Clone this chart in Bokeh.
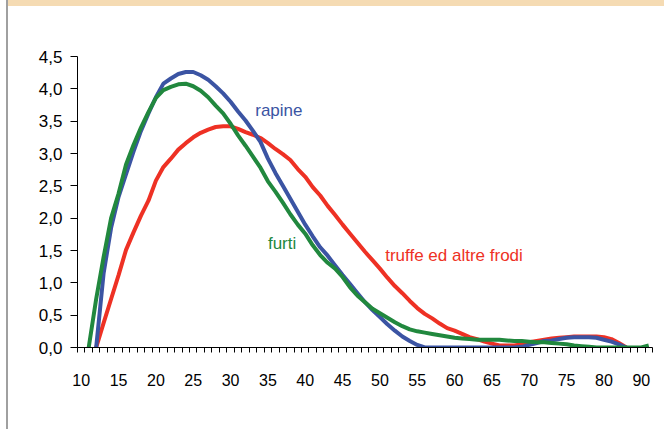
from bokeh.plotting import figure
from bokeh.models import Range1d, FixedTicker, CustomJSTickFormatter
from bokeh.core.properties import value
from bokeh.embed import file_html
from bokeh.resources import INLINE

# ---- data ----
ages_rapine = list(range(12, 84))
rapine = [0.0, 1.15, 1.85, 2.33, 2.68, 3.03, 3.35, 3.62, 3.87, 4.08,
          4.16, 4.23, 4.26, 4.26, 4.21, 4.14, 4.04, 3.93, 3.80, 3.65,
          3.51, 3.35, 3.18, 2.92, 2.70, 2.50, 2.30, 2.10, 1.90, 1.72,
          1.55, 1.42, 1.27, 1.12, 0.98, 0.84, 0.70, 0.58, 0.47, 0.36,
          0.26, 0.17, 0.10, 0.04, 0.0, 0.0, 0.0, 0.0, 0.0, 0.0,
          0.0, 0.0, 0.0, 0.0, 0.0, 0.0, 0.0, 0.01, 0.04, 0.07,
          0.10, 0.11, 0.13, 0.15, 0.16, 0.16, 0.16, 0.15, 0.12, 0.09,
          0.05, 0.0]

ages_furti = list(range(11, 87))
furti = [0.0, 0.75, 1.40, 2.00, 2.38, 2.83, 3.13, 3.40, 3.64, 3.86,
         3.98, 4.03, 4.07, 4.08, 4.04, 3.97, 3.87, 3.74, 3.62, 3.46,
         3.28, 3.12, 2.95, 2.78, 2.57, 2.41, 2.24, 2.06, 1.90, 1.76,
         1.58, 1.43, 1.31, 1.22, 1.09, 0.93, 0.80, 0.70, 0.60, 0.53,
         0.46, 0.39, 0.33, 0.28, 0.25, 0.23, 0.21, 0.19, 0.17, 0.15,
         0.14, 0.13, 0.12, 0.12, 0.12, 0.12, 0.11, 0.10, 0.10, 0.09,
         0.08, 0.08, 0.07, 0.06, 0.05, 0.03, 0.02, 0.01, 0.0, 0.0,
         0.0, 0.0, 0.0, 0.0, 0.0, 0.03]

ages_truffe = list(range(12, 84))
truffe = [0.0, 0.38, 0.75, 1.12, 1.51, 1.78, 2.04, 2.27, 2.58, 2.79,
          2.92, 3.06, 3.16, 3.25, 3.32, 3.37, 3.41, 3.42, 3.42, 3.38,
          3.33, 3.29, 3.24, 3.16, 3.07, 2.99, 2.90, 2.76, 2.64, 2.48,
          2.35, 2.19, 2.05, 1.90, 1.76, 1.62, 1.48, 1.35, 1.22, 1.08,
          0.95, 0.84, 0.72, 0.61, 0.52, 0.45, 0.37, 0.30, 0.26, 0.21,
          0.16, 0.13, 0.09, 0.06, 0.03, 0.03, 0.03, 0.05, 0.08, 0.10,
          0.12, 0.14, 0.15, 0.16, 0.17, 0.17, 0.17, 0.17, 0.16, 0.13,
          0.07, 0.0]

x_tick_pos = [10, 15, 20, 25, 30, 35, 40, 45, 50, 55, 60, 65, 70, 75, 80, 85]
x_tick_labels = ["10", "15", "20", "25", "30", "35", "40", "45", "50", "55",
                 "60", "65", "70", "75", "80", "90"]
y_ticks = [0.0, 0.5, 1.0, 1.5, 2.0, 2.5, 3.0, 3.5, 4.0, 4.5]

series_names = ["rapine", "furti", "truffe ed altre frodi"]
label_x = [33.3, 35.0, 50.7]
label_y = [3.67, 1.61, 1.42]

C_RAP = "#3B54A3"
C_FUR = "#21883E"
C_TRU = "#EE3124"

# ---- figure ----
p = figure(width=656, height=429, output_backend="svg", toolbar_location=None,
           x_range=Range1d(9.5, 86.5), y_range=Range1d(0, 4.5),
           min_border_left=69, min_border_right=12, min_border_top=50,
           min_border_bottom=88)
# page decoration: beige band on top and grey rule on the left
p.styles = {"margin-left": "8px", "border-top": "6px solid #F5DBB3",
            "box-shadow": "-2px 0 0 0 #a0a0a0", "background-color": "white"}
p.outline_line_color = None
p.xgrid.visible = False
p.ygrid.visible = False
p.background_fill_color = None
p.border_fill_color = None

p.line(ages_truffe, truffe, line_color=C_TRU, line_width=4)
p.line(ages_rapine, rapine, line_color=C_RAP, line_width=4)
p.line(ages_furti, furti, line_color=C_FUR, line_width=4)

p.text(x=label_x, y=label_y, text=series_names,
       text_color=[C_RAP, C_FUR, C_TRU], text_font=value("Liberation Sans"),
       text_font_size="17px", text_baseline="middle", text_align="left")

# x axis
xa = p.xaxis[0]
xa.ticker = FixedTicker(ticks=x_tick_pos,
                        minor_ticks=[a - 0.5 for a in range(10, 88)])
xa.major_label_overrides = {t: l for t, l in zip(x_tick_pos, x_tick_labels)}
xa.major_tick_in = 0
xa.major_tick_out = 0
xa.minor_tick_in = 0
xa.minor_tick_out = 5
xa.minor_tick_line_color = "black"
xa.axis_line_color = "black"
xa.major_label_standoff = 21
xa.major_label_text_font = "Liberation Sans"
xa.major_label_text_font_size = "16px"
xa.major_label_text_color = "black"

# y axis
ya = p.yaxis[0]
ya.ticker = FixedTicker(ticks=y_ticks, minor_ticks=[])
ya.formatter = CustomJSTickFormatter(code="return tick.toFixed(1).replace('.', ',');")
ya.major_tick_in = 0
ya.major_tick_out = 7
ya.minor_tick_out = 0
ya.minor_tick_in = 0
ya.major_tick_line_color = "black"
ya.axis_line_color = "black"
ya.major_label_standoff = 8
ya.major_label_text_font = "Liberation Sans"
ya.major_label_text_font_size = "17px"
ya.major_label_text_color = "black"

open("out.html", "w").write(file_html(p, INLINE))
